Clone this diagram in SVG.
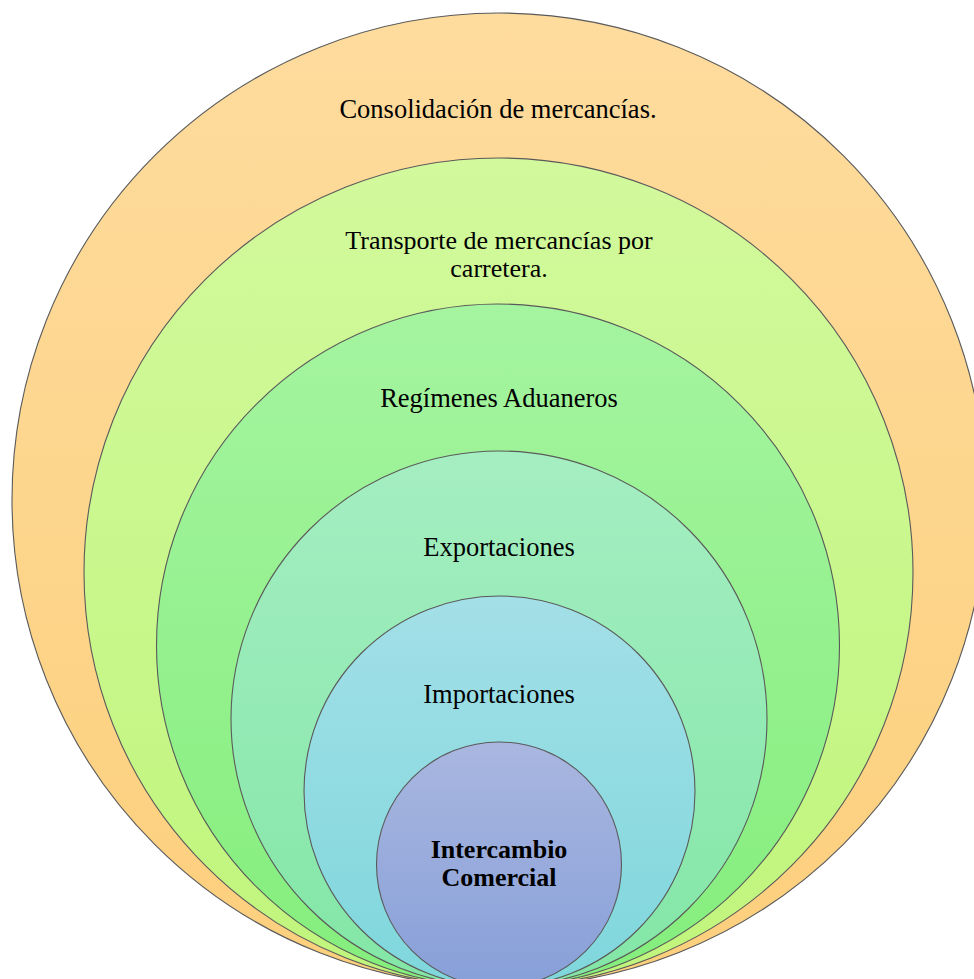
<svg xmlns="http://www.w3.org/2000/svg" width="974" height="979" viewBox="0 0 974 979">
<style>
.ring{stroke:#5a5a5a;stroke-width:1.1}
.t{font-family:"Liberation Serif","Times New Roman",serif;font-size:26.5px;fill:#000;text-anchor:middle}
.s{font-size:26px}
.b{font-weight:bold}
</style>
<defs>
<linearGradient id="g1" x1="0" y1="0" x2="0" y2="1"><stop offset="0" stop-color="#FEDC9E"/><stop offset="1" stop-color="#FCCF7C"/></linearGradient>
<linearGradient id="g2" x1="0" y1="0" x2="0" y2="1"><stop offset="0" stop-color="#D2F99C"/><stop offset="1" stop-color="#C0F57C"/></linearGradient>
<linearGradient id="g3" x1="0" y1="0" x2="0" y2="1"><stop offset="0" stop-color="#A5F4A0"/><stop offset="1" stop-color="#84EE7C"/></linearGradient>
<linearGradient id="g4" x1="0" y1="0" x2="0" y2="1"><stop offset="0" stop-color="#A5EEC2"/><stop offset="1" stop-color="#82E6A6"/></linearGradient>
<linearGradient id="g5" x1="0" y1="0" x2="0" y2="1"><stop offset="0" stop-color="#A3DFE7"/><stop offset="1" stop-color="#7ED7DC"/></linearGradient>
<linearGradient id="g6" x1="0" y1="0" x2="0" y2="1"><stop offset="0" stop-color="#A9B7E0"/><stop offset="1" stop-color="#879FD8"/></linearGradient>
</defs>
<g id="connectors"/>
<g id="n1"><circle class="ring" cx="499" cy="500" r="487" fill="url(#g1)"/><text class="t" x="498" y="118">Consolidación de mercancías.</text></g>
<g id="n2"><circle class="ring" cx="498.5" cy="572.5" r="414.5" fill="url(#g2)"/><text class="t s" x="499" y="249">Transporte de mercancías por</text><text class="t s" x="499" y="277">carretera.</text></g>
<g id="n3"><circle class="ring" cx="498" cy="645.5" r="341.5" fill="url(#g3)"/><text class="t" x="499" y="407">Regímenes Aduaneros</text></g>
<g id="n4"><circle class="ring" cx="499" cy="719" r="268" fill="url(#g4)"/><text class="t" x="499" y="556">Exportaciones</text></g>
<g id="n5"><circle class="ring" cx="499.5" cy="791.5" r="195.5" fill="url(#g5)"/><text class="t" x="499" y="703">Importaciones</text></g>
<g id="n6"><circle class="ring" cx="499" cy="864.5" r="122.5" fill="url(#g6)"/><text class="t b s" x="499" y="858">Intercambio</text><text class="t b s" x="499" y="886">Comercial</text></g>
</svg>
